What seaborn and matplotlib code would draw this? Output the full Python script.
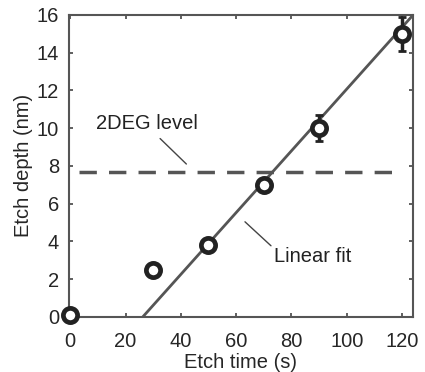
import numpy as np
import pandas as pd
import matplotlib
matplotlib.use("Agg")
import matplotlib.pyplot as plt
import seaborn as sns

# measured etch depths
etch_time = [0, 30, 50, 70, 90, 120]
etch_depth = [0.1, 2.5, 3.8, 7.0, 10.0, 15.0]
depth_err = [0.1, 0.1, 0.2, 0.2, 0.7, 0.9]

# linear fit and 2DEG depth
fit_slope = 0.1636
fit_intercept = -4.29
deg_level = 7.7

sns.set_style("ticks")
plt.rcParams["font.family"] = ["Liberation Sans", "DejaVu Sans"]
plt.rcParams["font.size"] = 14.5

fig = plt.figure(figsize=(4.25, 3.72), dpi=100)
ax = fig.add_axes([0.162, 0.148, 0.810, 0.812])

df = pd.DataFrame({"time": etch_time, "depth": etch_depth})

# fit line, starting where it crosses zero
x0 = -fit_intercept / fit_slope
xfit = np.linspace(x0, 124, 50)
sns.lineplot(x=xfit, y=fit_slope * xfit + fit_intercept, ax=ax,
             color="#555555", lw=2.0, zorder=2)

ax.plot([3, 118], [deg_level, deg_level], color="#555555", lw=2.5,
        dashes=(5, 3.5), zorder=2)

ax.errorbar(etch_time, etch_depth, yerr=depth_err, fmt="none",
            ecolor="#222222", elinewidth=2.5, capsize=3, capthick=2, zorder=3)
sns.scatterplot(data=df, x="time", y="depth", ax=ax, s=105,
                facecolor="white", edgecolor="#222222", linewidth=3.4,
                zorder=4, clip_on=False)

ax.set_xlim(-0.5, 124)
ax.set_ylim(0, 16)
ax.set_xticks([0, 20, 40, 60, 80, 100, 120])
ax.set_yticks([0, 2, 4, 6, 8, 10, 12, 14, 16])
ax.set_xlabel("Etch time (s)", fontsize=14.5, labelpad=1)
ax.set_ylabel("Etch depth (nm)", fontsize=14.5, labelpad=3)
ax.tick_params(direction="in", length=3, width=1.2, color="#444444",
               top=True, right=True, labelsize=14.5, pad=7)
ax.tick_params(axis="x", pad=11)
for sp in ax.spines.values():
    sp.set_visible(True)
    sp.set_color("#555555")
    sp.set_linewidth(1.5)

ax.text(9.4, 10.25, "2DEG level", fontsize=14.5, color="#222222", va="center")
ax.plot([32.5, 42], [9.45, 8.1], color="#444444", lw=1)
ax.text(73.6, 3.18, "Linear fit", fontsize=14.5, color="#222222", va="center")
ax.plot([63.2, 72.6], [5.04, 3.77], color="#444444", lw=1)

fig.savefig("out.png", dpi=100)
